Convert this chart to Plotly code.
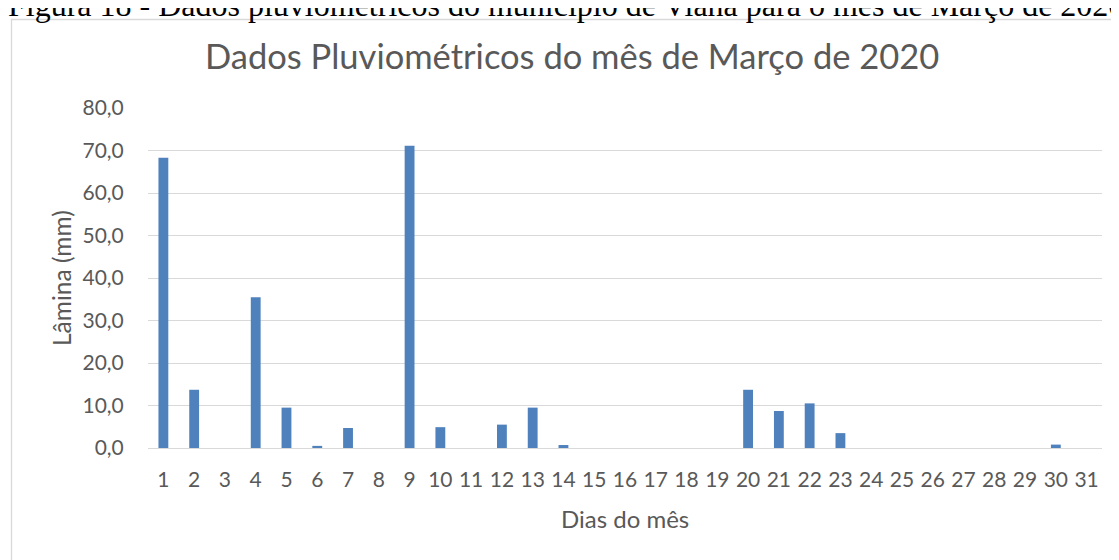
import plotly.graph_objects as go

days = [str(d) for d in range(1, 32)]
precip_mm = [68.3, 13.7, 0.0, 35.5, 9.5, 0.5, 4.7, 0.0, 71.1, 4.9,
             0.0, 5.5, 9.5, 0.7, 0.0, 0.0, 0.0, 0.0, 0.0, 13.7,
             8.7, 10.5, 3.5, 0.0, 0.0, 0.0, 0.0, 0.0, 0.0, 0.8, 0.0]
y_ticks = [0, 10, 20, 30, 40, 50, 60, 70, 80]

# page body has an 8px margin, so figure coords = page coords - 8
OFF = 8
W, H = 1119, 560
PL, PT = 148, 108          # plot area top-left on page
pw, ph = 954, 340
L, T = PL - OFF, PT - OFF
R = W - L - pw
B = H - T - ph

def px(x):
    return (x - PL) / pw

def py(y):
    return (PT + ph - y) / ph

FONT = "Lato"
GREY = "#595959"
GRID = "#d9d9d9"

fig = go.Figure(go.Bar(
    x=days, y=precip_mm, marker=dict(color="#4f81bd", line=dict(width=0)),
    width=0.32,
))

fig.update_layout(
    width=W, height=H,
    margin=dict(l=L, r=R, t=T, b=B, pad=0),
    paper_bgcolor="white", plot_bgcolor="white",
    separators=",.",
    showlegend=False,
    font=dict(family=FONT, color=GREY),
)
fig.update_xaxes(
    type="category", showgrid=False, showline=False, zeroline=False,
    ticks="outside", ticklen=13, tickcolor="rgba(0,0,0,0)",
    tickfont=dict(family=FONT, size=21, color=GREY),
)
fig.update_yaxes(
    range=[0, 80], tickvals=y_ticks, tickformat=".1f",
    showgrid=True, gridcolor=GRID, gridwidth=1.3,
    zeroline=True, zerolinecolor=GRID, zerolinewidth=1.3,
    showline=False,
    ticks="outside", ticklen=19, tickcolor="rgba(0,0,0,0)",
    tickfont=dict(family=FONT, size=21, color=GREY),
)

fig.add_shape(type="rect", xref="paper", yref="paper",
              x0=px(11.5), x1=px(1160), y0=py(620), y1=py(19.5),
              line=dict(color=GRID, width=1.3), layer="below")

anns = [
    dict(text="Figura 18 - Dados pluviométricos do município de Viana para o mês de Março de 2020",
         x=px(6), y=py(25), xanchor="left", yanchor="bottom",
         font=dict(family="Liberation Serif", size=32, color="black")),
    dict(text="Dados Pluviométricos do mês de Março de 2020",
         x=px(572), y=py(55), xanchor="center", yanchor="middle",
         font=dict(family=FONT, size=34.5, color=GREY)),
    dict(text="Lâmina (mm)", textangle=-90,
         x=px(61), y=0.5, xanchor="center", yanchor="middle",
         font=dict(family=FONT, size=24.5, color=GREY)),
    dict(text="Dias do mês",
         x=0.5, y=py(518), xanchor="center", yanchor="middle",
         font=dict(family=FONT, size=24, color=GREY)),
]
for a in anns:
    fig.add_annotation(xref="paper", yref="paper", showarrow=False, **a)

fig.write_html("out.html")
